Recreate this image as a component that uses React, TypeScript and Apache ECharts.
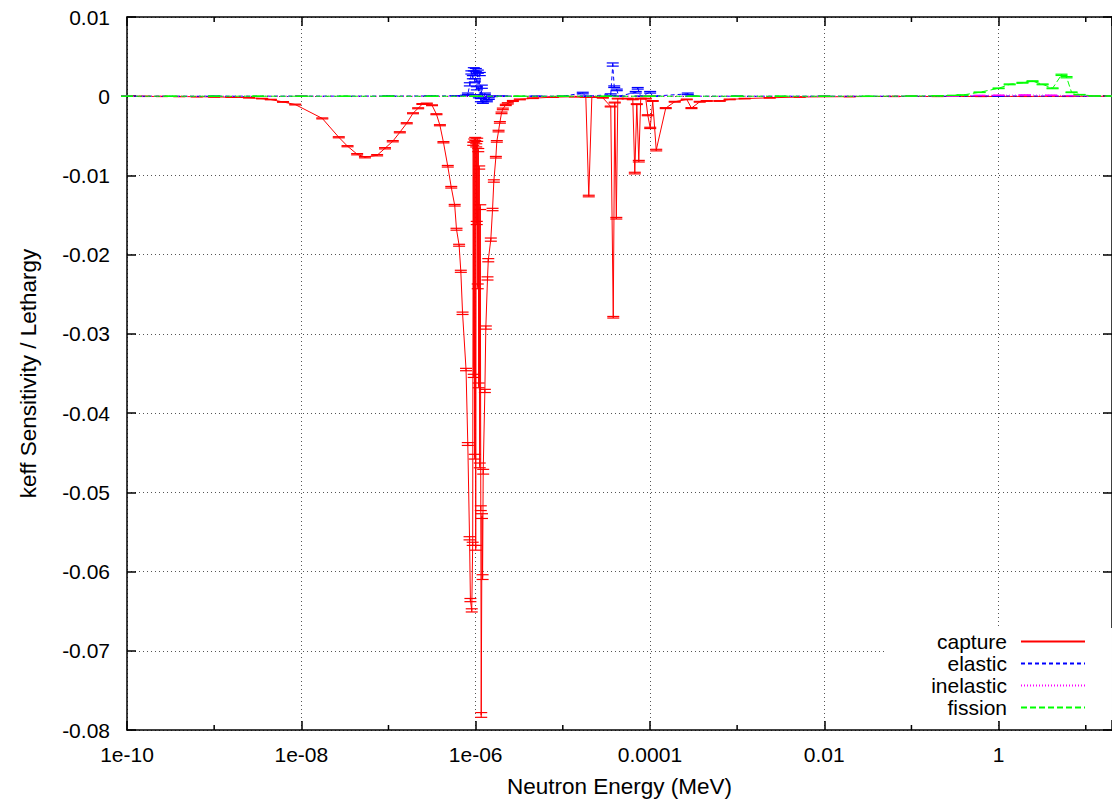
import React, { useEffect, useRef } from 'react';
import * as echarts from 'echarts';

const FONT = '"Liberation Sans", Arial, Helvetica, sans-serif';

// [energy (MeV), keff sensitivity per lethargy, uncertainty]
const capture: number[][] = [
  [1e-10, -0.00001, 0.00001], [1.58e-10, -0.00002, 0.00001], [2.51e-10, -0.00003, 0.00001],
  [3.98e-10, -0.00004, 0.00001], [6.31e-10, -0.00006, 0.00001], [1e-9, -0.00009, 0.00002],
  [1.58e-9, -0.00013, 0.00002], [2.51e-9, -0.00019, 0.00002], [3.55e-9, -0.0003, 0.00003],
  [4.47e-9, -0.00042, 0.00003], [6.17e-9, -0.00072, 0.00004], [8.51e-9, -0.00105, 0.00005],
  [1.74e-8, -0.0028, 0.00006], [2.69e-8, -0.00518, 0.00007], [3.39e-8, -0.00631, 0.00007],
  [4.37e-8, -0.00732, 0.00008], [5.37e-8, -0.0077, 0.00008], [7.41e-8, -0.00745, 0.00008],
  [9.12e-8, -0.00657, 0.00008], [1.12e-7, -0.00568, 0.00008], [1.35e-7, -0.00455, 0.00007],
  [1.62e-7, -0.00341, 0.00007], [1.91e-7, -0.00215, 0.00006], [2.19e-7, -0.00152, 0.00006],
  [2.45e-7, -0.00098, 0.00005], [2.75e-7, -0.00092, 0.00005], [3.16e-7, -0.00114, 0.00005],
  [3.55e-7, -0.00227, 0.00006], [3.89e-7, -0.00366, 0.00007], [4.27e-7, -0.00581, 0.00008],
  [4.79e-7, -0.00884, 0.0001], [5.25e-7, -0.01149, 0.0001], [5.75e-7, -0.01376, 0.0001],
  [6.03e-7, -0.01679, 0.00012], [6.46e-7, -0.01881, 0.00012], [6.76e-7, -0.0221, 0.00013],
  [7.08e-7, -0.0274, 0.00015], [7.76e-7, -0.0345, 0.00015], [8.13e-7, -0.0439, 0.00018],
  [8.51e-7, -0.0558, 0.0002], [8.71e-7, -0.0636, 0.0002], [9.02e-7, -0.0649, 0.0002],
  [9.25e-7, -0.0565, 0.0002], [9.38e-7, -0.006, 0.0002], [9.51e-7, -0.0353, 0.0002],
  [9.64e-7, -0.0056, 0.0002], [9.75e-7, -0.0455, 0.0003], [9.89e-7, -0.0054, 0.0002],
  [1.002e-6, -0.057, 0.0003], [1.016e-6, -0.0062, 0.0002], [1.03e-6, -0.016, 0.0002],
  [1.042e-6, -0.0055, 0.0002], [1.057e-6, -0.024, 0.0003], [1.072e-6, -0.0068, 0.0002],
  [1.084e-6, -0.0365, 0.0003], [1.099e-6, -0.009, 0.0002], [1.114e-6, -0.0466, 0.0003],
  [1.13e-6, -0.014, 0.0003], [1.146e-6, -0.052, 0.0003], [1.159e-6, -0.0781, 0.0003],
  [1.183e-6, -0.053, 0.0003], [1.202e-6, -0.0607, 0.0003], [1.221e-6, -0.0474, 0.0003],
  [1.276e-6, -0.0372, 0.0002], [1.309e-6, -0.0292, 0.0002], [1.368e-6, -0.023, 0.0002],
  [1.396e-6, -0.0207, 0.0002], [1.493e-6, -0.0181, 0.0002], [1.563e-6, -0.0143, 0.00015],
  [1.618e-6, -0.0107, 0.00015], [1.706e-6, -0.0077, 0.0001], [1.75e-6, -0.0057, 0.0001],
  [1.832e-6, -0.0044, 0.0001], [1.897e-6, -0.0033, 0.0001], [1.982e-6, -0.0021, 0.0001],
  [2.051e-6, -0.0016, 0.0001], [2.218e-6, -0.0011, 0.00008], [2.339e-6, -0.0009, 0.00008],
  [2.673e-6, -0.0006, 0.00006], [3.214e-6, -0.0004, 0.00005], [4.529e-6, -0.00025, 0.00004],
  [7.674e-6, -0.00012, 0.00003], [1.374e-5, -0.00006, 0.00003], [1.837e-5, -0.0001, 0.00003],
  [1.986e-5, -0.0126, 0.0001], [2.153e-5, -0.0001, 0.00003], [2.877e-5, -0.0002, 0.00003],
  [3.548e-5, -0.0013, 0.00005], [3.793e-5, -0.0279, 0.0001], [3.945e-5, -0.0008, 0.00005],
  [4.111e-5, -0.0154, 0.0001], [4.276e-5, -0.0003, 0.00004], [5.559e-5, -0.0003, 0.00004],
  [6.353e-5, -0.0004, 0.00004], [6.699e-5, -0.0097, 0.0001], [7.063e-5, -0.001, 0.00005],
  [7.447e-5, -0.0082, 0.0001], [7.834e-5, -0.0003, 0.00004], [8.954e-5, -0.0003, 0.00004],
  [9.441e-5, -0.0024, 0.00006], [1.007e-4, -0.004, 0.00008], [1.076e-4, -0.0006, 0.00005],
  [1.18e-4, -0.0068, 0.0001], [1.517e-4, -0.0015, 0.00006], [1.923e-4, -0.0007, 0.00005],
  [2.642e-4, -0.0004, 0.00004], [2.992e-4, -0.0015, 0.00006], [3.724e-4, -0.0007, 0.00005],
  [4.477e-4, -0.0006, 0.00004], [6.31e-4, -0.0006, 0.00004], [8.222e-4, -0.0004, 0.00004],
  [1.222e-3, -0.0003, 0.00003], [2.366e-3, -0.0002, 0.00003], [5.224e-3, -0.0001, 0.00002],
  [1.954e-2, -0.00005, 0.00002], [0.0631, -0.00003, 0.00001], [0.1995, -0.00003, 0.00001],
  [0.631, -0.00003, 0.00001], [1.995, -0.00002, 0.00001], [6.31, -0.00002, 0.00001],
  [19.95, -0.00001, 0.00001],
];

const elastic: number[][] = [
  [1e-10, 0, 0], [1e-9, 0, 0], [1e-8, 0.00001, 0], [1e-7, 0.00002, 0],
  [3e-7, 0.00003, 0.00001], [6e-7, 0.00005, 0.00001], [7.73e-7, 0.0001, 0.00002],
  [8.15e-7, 0.0003, 0.0001], [8.58e-7, 0.0015, 0.0002], [8.93e-7, 0.003, 0.0002],
  [9.29e-7, 0.0024, 0.0002], [9.53e-7, 0.0034, 0.0002], [9.79e-7, 0.002, 0.0002],
  [1.005e-6, 0.0033, 0.0002], [1.032e-6, 0.001, 0.0002], [1.06e-6, 0.0031, 0.0002],
  [1.089e-6, 0.0, 0.0002], [1.117e-6, 0.0028, 0.0002], [1.148e-6, -0.0005, 0.0002],
  [1.178e-6, 0.0012, 0.0002], [1.211e-6, -0.0008, 0.0001], [1.276e-6, 0.0003, 0.0001],
  [1.344e-6, -0.0006, 0.0001], [1.416e-6, -0.0003, 0.0001], [1.534e-6, 0.0, 0.00005],
  [2e-6, 0.00002, 0], [5e-6, 0, 0], [1e-5, 0, 0], [1.694e-5, 0.0004, 0.0001],
  [1.837e-5, 0, 0], [3.548e-5, 0.0002, 0.0001], [3.741e-5, 0.004, 0.0002],
  [3.89e-5, 0.0012, 0.0001], [4.16e-5, 0.0008, 0.0001], [4.385e-5, 0, 0],
  [6.87e-5, 0.0005, 0.0001], [7.24e-5, 0.001, 0.0001], [7.83e-5, 0, 0],
  [1.005e-4, 0.0005, 0.0001], [1.076e-4, 0, 0], [2.716e-4, 0.0003, 0.0001],
  [3e-4, 0, 0], [1e-3, 0, 0], [1e-2, 0, 0], [0.1, 0, 0], [1, 0.00003, 0], [20, 0, 0],
];

const inelastic: number[][] = [
  [1e-10, 0, 0], [1e-8, 0, 0], [1e-6, 0, 0], [1e-4, 0, 0], [1e-2, 0, 0],
  [0.1, 0.00001, 0], [0.3, 0.00003, 0.00001], [0.6, 0.0001, 0.00001], [1, 0.00012, 0.00001],
  [2, 0.00015, 0.00001], [4, 0.00012, 0.00001], [7, 0.00008, 0.00001], [12, 0.00003, 0.00001],
  [20, 0.00001, 0],
];

const fission: number[][] = [
  [1e-10, 0, 0], [3.16e-10, 0, 0], [1e-9, 0, 0], [3.16e-9, 0, 0], [1e-8, 0, 0],
  [3.16e-8, 0, 0], [1e-7, 0, 0], [3.16e-7, 0, 0], [1e-6, 0, 0], [3.16e-6, 0, 0],
  [1e-5, 0, 0], [3.16e-5, 0, 0], [1e-4, 0, 0], [3.16e-4, 0, 0], [1e-3, 0, 0],
  [3.16e-3, 0, 0], [1e-2, 0, 0], [3.16e-2, 0, 0], [0.1, 0.00002, 0], [0.2, 0.00005, 0.00001],
  [0.3, 0.0001, 0.00001], [0.386, 0.00015, 0.00002], [0.605, 0.0005, 0.00003],
  [1.0, 0.001, 0.00004], [1.34, 0.0015, 0.00005], [1.88, 0.0017, 0.00005],
  [2.45, 0.0019, 0.00005], [3.2, 0.0015, 0.00005], [4.16, 0.001, 0.00005],
  [5.27, 0.0027, 0.00008], [6.02, 0.0024, 0.00008], [6.87, 0.0005, 0.00004],
  [8.49, 0.0002, 0.00002], [12.6, 0.00003, 0.00001], [20, 0.00002, 0],
];

const seriesNames = ['capture', 'elastic', 'inelastic', 'fission'];
const seriesData = [capture, elastic, inelastic, fission];
const seriesColors = ['#ff0000', '#0000ff', '#ff00ff', '#00ff00'];
const seriesDash: any[] = ['solid', [4, 3], [1, 2], [6, 3]];

const minorTickE = [1e-9, 1e-7, 1e-5, 1e-3, 0.1, 10];

const X_MIN = 1e-10;
const X_MAX = 20;
const Y_MIN = -0.08;
const Y_MAX = 0.01;
const Y_STEP = 0.01;

const xLabel = (v: number) => {
  const e = Math.round(Math.log10(v));
  if (e < -4) return '1e-' + String(-e).padStart(2, '0');
  return String(Math.pow(10, e));
};
const yLabel = (v: number) => {
  const r = Math.round(v * 100) / 100;
  return r === 0 ? '0' : String(r);
};

function errorBars(color: string) {
  return (params: any, api: any) => {
    const x = api.value(0);
    const y = api.value(1);
    const e = api.value(2);
    const lo = api.coord([x, y - e]);
    const hi = api.coord([x, y + e]);
    const w = 6;
    const style = { stroke: color, lineWidth: 1.2 };
    return {
      type: 'group',
      silent: true,
      children: [
        { type: 'line', shape: { x1: lo[0], y1: lo[1], x2: hi[0], y2: hi[1] }, style },
        { type: 'line', shape: { x1: lo[0] - w, y1: lo[1], x2: lo[0] + w, y2: lo[1] }, style },
        { type: 'line', shape: { x1: hi[0] - w, y1: hi[1], x2: hi[0] + w, y2: hi[1] }, style },
      ],
    };
  };
}

export default function App() {
  const ref = useRef<HTMLDivElement>(null);
  useEffect(() => {
    if (!ref.current) return;
    const chart = echarts.init(ref.current, null, { renderer: 'svg' });
    const axisLine = { show: true, onZero: false, lineStyle: { color: '#000', width: 1.5 } };
    const tick = { show: true, inside: true, length: 9, lineStyle: { color: '#000', width: 1.5 } };
    const series: any[] = [];
    seriesNames.forEach((name, i) => {
      series.push({
        name,
        type: 'line',
        data: seriesData[i].map((d) => [d[0], d[1]]),
        showSymbol: false,
        symbol: 'none',
        lineStyle: { color: seriesColors[i], width: 1, type: seriesDash[i] },
        itemStyle: { color: seriesColors[i] },
        z: 2 + i,
      });
      series.push({
        name: name + '-err',
        type: 'custom',
        data: seriesData[i],
        encode: { x: 0, y: 1 },
        renderItem: errorBars(seriesColors[i]),
        z: 2 + i,
      });
    });
    series.push({
      name: 'minor-ticks',
      type: 'custom',
      data: minorTickE.map((e) => [e, Y_MIN]),
      encode: { x: 0, y: 1 },
      clip: false,
      silent: true,
      renderItem: (params: any, api: any) => {
        const e = api.value(0);
        const b = api.coord([e, Y_MIN]);
        const t = api.coord([e, Y_MAX]);
        const style = { stroke: '#000', lineWidth: 1.5 };
        return {
          type: 'group',
          children: [
            { type: 'line', shape: { x1: b[0], y1: b[1], x2: b[0], y2: b[1] - 5 }, style },
            { type: 'line', shape: { x1: t[0], y1: t[1], x2: t[0], y2: t[1] + 5 }, style },
          ],
        };
      },
      z: 10,
    });

    chart.setOption({
      animation: false,
      backgroundColor: '#fff',
      textStyle: { fontFamily: FONT },
      grid: { left: 127, top: 17, right: 0, bottom: 76, containLabel: false },
      legend: {
        data: seriesNames,
        orient: 'vertical',
        align: 'right',
        right: 0,
        top: 628,
        padding: [3, 26, 2, 46],
        itemGap: 1,
        itemWidth: 64,
        itemHeight: 14,
        backgroundColor: '#fff',
        itemStyle: { opacity: 0 },
        textStyle: { fontSize: 21, color: '#000', fontFamily: FONT, lineHeight: 21, padding: [0, 9, 0, 0] },
        selectedMode: false,
      },
      xAxis: [
        {
          type: 'log',
          logBase: 100,
          min: X_MIN,
          max: X_MAX,
          position: 'bottom',
          name: 'Neutron Energy (MeV)',
          nameLocation: 'middle',
          nameGap: 45,
          nameTextStyle: { fontSize: 22.5, color: '#000', fontFamily: FONT },
          axisLine,
          axisTick: tick,
          minorTick: { show: false },
          axisLabel: {
            formatter: xLabel,
            fontSize: 21,
            color: '#000',
            fontFamily: FONT,
            margin: 14,
            showMaxLabel: false,
            showMinLabel: true,
          },
          splitLine: { show: true, lineStyle: { color: '#555', width: 1, type: [1, 3] } },
        },
        {
          type: 'log',
          logBase: 100,
          min: X_MIN,
          max: X_MAX,
          position: 'top',
          axisLine,
          axisTick: tick,
          axisLabel: { show: false },
          splitLine: { show: false },
        },
      ],
      yAxis: [
        {
          type: 'value',
          min: Y_MIN,
          max: Y_MAX,
          interval: Y_STEP,
          position: 'left',
          name: 'keff Sensitivity / Lethargy',
          nameLocation: 'middle',
          nameRotate: 90,
          nameGap: 87,
          nameTextStyle: { fontSize: 22.5, color: '#000', fontFamily: FONT },
          axisLine,
          axisTick: tick,
          axisLabel: { formatter: yLabel, fontSize: 21, color: '#000', fontFamily: FONT, margin: 17 },
          splitLine: { show: true, lineStyle: { color: '#555', width: 1, type: [1, 3] } },
        },
        {
          type: 'value',
          min: Y_MIN,
          max: Y_MAX,
          interval: Y_STEP,
          position: 'right',
          axisLine,
          axisTick: tick,
          axisLabel: { show: false },
          splitLine: { show: false },
        },
      ],
      series,
    });
    return () => chart.dispose();
  }, []);
  return (
    <div
      ref={ref}
      style={{ position: 'absolute', left: 0, top: 0, width: 1112, height: 806, background: '#fff' }}
    />
  );
}
